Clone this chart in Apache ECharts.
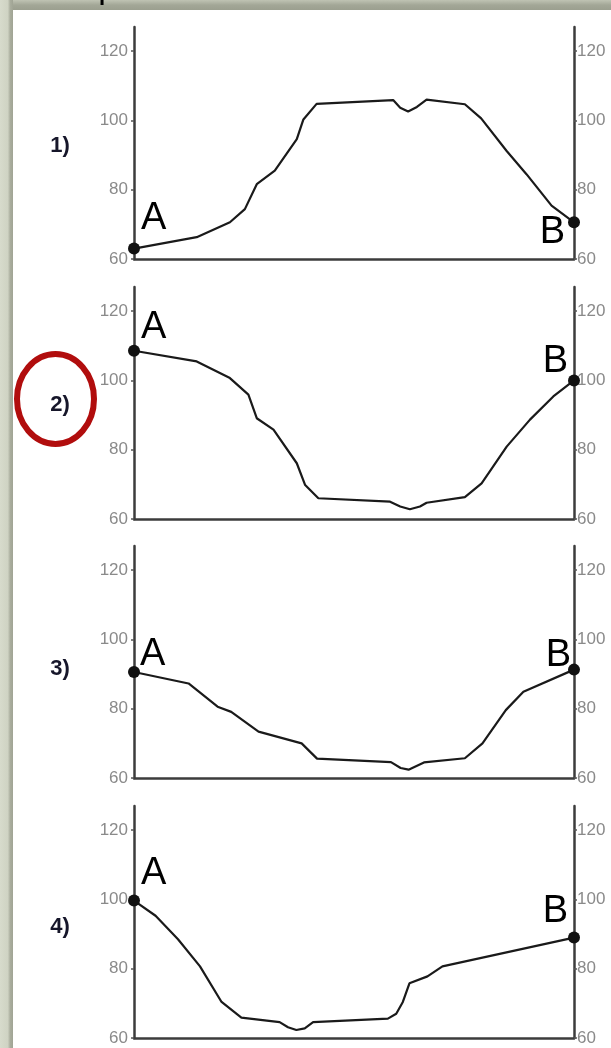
<!DOCTYPE html>
<html>
<head>
<meta charset="utf-8">
<script src="https://cdn.jsdelivr.net/npm/echarts@6/dist/echarts.min.js"></script>
<style>
html,body{margin:0;padding:0;width:611px;height:1048px;overflow:hidden;background:#ccd0c0;}
#frameTop{position:absolute;left:0;top:0;width:611px;height:10px;background:linear-gradient(#bfc3b3,#a3a797 50%,#9b9f8f);}
#frameLeft{position:absolute;left:0;top:0;width:13px;height:1048px;background:linear-gradient(to right,#d7dbcc 0,#cfd3c3 60%,#aaae9e 78%,#a0a494 100%);}
#panel{position:absolute;left:13px;top:10px;width:598px;height:1038px;background:#ffffff;}
#chart{position:absolute;left:0;top:0;width:611px;height:1048px;}
</style>
</head>
<body>
<div id="frameTop"></div>
<div id="frameLeft"></div>
<div id="panel"></div>
<div id="chart"></div>
<script>
// ---- data (distance along profile in % of A→B, elevation) ----
const tickValues = [60, 80, 100, 120];
const panelLabels = ['1)', '2)', '3)', '4)'];
const endLabels = ['A', 'B'];

const dist1 = [0, 14.25, 21.8, 25.2, 27.9, 32.0, 37.0, 38.5, 41.5, 58.9, 60.5, 62.3, 64.3, 66.5, 75.2, 78.9, 84.7, 89.2, 94.9, 100];
const elev1 = [63.0, 66.3, 70.6, 74.4, 81.6, 85.5, 94.6, 100.3, 104.8, 105.9, 103.7, 102.6, 103.9, 106.0, 104.7, 100.6, 91.2, 84.5, 75.4, 70.6];

const dist2 = [0, 14.25, 21.8, 26.0, 27.9, 31.7, 37.0, 38.9, 41.9, 58.2, 60.5, 62.7, 65.0, 66.5, 75.2, 79.0, 84.7, 90.0, 95.3, 100];
const elev2 = [108.6, 105.5, 100.7, 95.9, 89.1, 85.8, 76.1, 69.8, 66.0, 65.0, 63.6, 62.8, 63.6, 64.7, 66.3, 70.3, 80.9, 88.7, 95.4, 100.0];

const dist3 = [0, 12.4, 19.0, 22.1, 28.3, 38.1, 41.6, 58.4, 60.6, 62.4, 65.9, 75.2, 79.2, 84.5, 88.5, 100];
const elev3 = [90.6, 87.3, 80.6, 79.1, 73.4, 70.0, 65.6, 64.6, 62.9, 62.4, 64.5, 65.7, 70.0, 79.6, 84.9, 91.3];

const dist4 = [0, 4.9, 10.0, 15.0, 19.9, 24.4, 33.1, 35.0, 36.9, 38.8, 40.7, 57.7, 59.6, 61.1, 62.6, 66.7, 70.1, 100];
const elev4 = [99.7, 95.3, 88.5, 80.7, 70.4, 65.9, 64.6, 63.1, 62.3, 62.8, 64.6, 65.6, 67.0, 70.4, 75.8, 77.8, 80.7, 89.0];

const profiles = [[dist1, elev1], [dist2, elev2], [dist3, elev3], [dist4, elev4]];

// ---- layout / style ----
const FONT = '"Liberation Sans", Arial, Helvetica, sans-serif';
const gridTops = [27, 287, 546, 806];
const gridH = 232;
const panelLabelY = [146, 405, 669, 927];
// label offsets for A (align left) and B (align right), relative to the dot
const aOffsets = [[7, -30], [7, -23], [6, -18], [7, -27]];
const bOffsets = [[-9, 10], [-6, -19], [-3, -14], [-6, -26]];

const axisColor = '#3c3c3c';
const grids = [], xAxes = [], yAxes = [], series = [], graphics = [];

profiles.forEach(([d, e], i) => {
  grids.push({left: 134, top: gridTops[i], width: 440, height: gridH});
  xAxes.push({
    type: 'value', gridIndex: i, min: 0, max: 100,
    axisLine: {show: true, onZero: false, lineStyle: {color: axisColor, width: 2.5}},
    axisTick: {show: false}, axisLabel: {show: false}, splitLine: {show: false}
  });
  ['left', 'right'].forEach(pos => {
    yAxes.push({
      type: 'value', gridIndex: i, position: pos, min: 60, max: 127, interval: 20,
      axisLine: {show: true, lineStyle: {color: axisColor, width: 2.5}},
      axisTick: {show: true, length: 3, customValues: tickValues, lineStyle: {color: '#555', width: 1.5}},
      axisLabel: {
        customValues: tickValues,
        formatter: v => (v % 20 === 0 ? String(v) : ''),
        margin: pos === 'left' ? 6 : 3,
        color: '#8a8a8a', fontSize: 17, fontFamily: FONT,
        verticalAlign: 'middle', padding: [0, 0, 10, 0]
      },
      splitLine: {show: false}
    });
  });
  series.push({
    type: 'line', xAxisIndex: i, yAxisIndex: 2 * i,
    data: d.map((x, k) => [x, e[k]]),
    symbol: 'none', clip: false, z: 3, silent: true,
    lineStyle: {color: '#1a1a1a', width: 2.2}
  });
  const n = d.length - 1;
  const lab = (txt, align, off) => ({
    show: true, formatter: txt, position: 'inside', align: align, verticalAlign: 'middle',
    offset: off, fontSize: 38, color: '#000', opacity: 1, fontFamily: FONT
  });
  series.push({
    type: 'scatter', xAxisIndex: i, yAxisIndex: 2 * i, clip: false, z: 5, silent: true,
    symbolSize: 12, itemStyle: {color: '#111', opacity: 1},
    data: [
      {value: [d[0], e[0]], label: lab(endLabels[0], 'left', aOffsets[i])},
      {value: [d[n], e[n]], label: lab(endLabels[1], 'right', bOffsets[i])}
    ]
  });
  graphics.push({
    type: 'text', x: 60, y: panelLabelY[i], z: 20,
    style: {text: panelLabels[i], fontSize: 22, fontWeight: 'bold', fontFamily: FONT,
            fill: '#16162a', align: 'center', verticalAlign: 'middle'}
  });
});

// red circle around "2)"
graphics.push({
  type: 'ellipse', z: 30,
  shape: {cx: 55.5, cy: 399, rx: 38.5, ry: 45},
  style: {fill: 'none', stroke: '#b10d0d', lineWidth: 6}
});
// fragment of the cut-off text at the very top
graphics.push({
  type: 'text', x: 99, y: -17, z: 30,
  style: {text: 'p', fontSize: 22, fontWeight: 'bold', fontFamily: FONT, fill: '#000', align: 'left', verticalAlign: 'top'}
});

const chart = echarts.init(document.getElementById('chart'), null, {renderer: 'canvas'});
chart.setOption({
  backgroundColor: 'transparent',
  animation: false,
  grid: grids,
  xAxis: xAxes,
  yAxis: yAxes,
  series: series,
  graphic: graphics
});
</script>
</body>
</html>
